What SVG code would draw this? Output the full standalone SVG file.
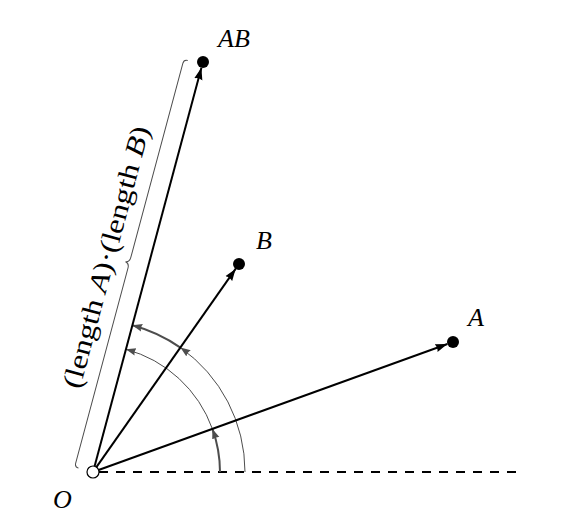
<svg xmlns="http://www.w3.org/2000/svg" width="561" height="526" viewBox="0 0 561 526">
<defs>
<style>
.vec{stroke:#000;stroke-width:2;fill:none;marker-end:url(#ah)}
.arc{stroke:#4d4d4d;fill:none;marker-end:url(#gh)}
.thin{stroke-width:1}
.thick{stroke-width:2}
.pt{fill:#000}
</style>
<marker id="ah" markerWidth="14" markerHeight="10" refX="12" refY="5" orient="auto" markerUnits="userSpaceOnUse">
<path d="M0,0.8 L12,5 L0,9.2 Q2,5 0,0.8 Z" fill="#000"/>
</marker>
<marker id="gh" markerWidth="12" markerHeight="10" refX="10" refY="5" orient="auto" markerUnits="userSpaceOnUse">
<path d="M0,1.2 L10,5 L0,8.8 Q1.8,5 0,1.2 Z" fill="#4d4d4d"/>
</marker>
</defs>
<g id="connectors">
<line x1="99" y1="472" x2="518" y2="472" stroke="#000" stroke-width="2" stroke-dasharray="9,8"/>
<path class="arc thick" d="M220,472 A127,127 0 0 0 212.4,428.9"/>
<path class="arc thin" d="M212.4,428.9 A127,127 0 0 0 125.9,349.3"/>
<path class="arc thin" d="M245,472 A152,152 0 0 0 180.4,347.6"/>
<path class="arc thick" d="M180.4,347.6 A152,152 0 0 0 132.3,325.2"/>
<line class="vec" x1="98.6" y1="470" x2="447.4" y2="344"/>
<line class="vec" x1="96.4" y1="467.1" x2="235.6" y2="268.9"/>
<line class="vec" x1="94.6" y1="466.2" x2="201.4" y2="67.8"/>
</g>
<g id="brace" transform="translate(93,472) rotate(-75)">
<path d="M0,-15 Q0,-19 4,-19 L206,-19 Q211,-19 211.5,-23 Q212,-19 217,-19 L418,-19 Q422,-19 422,-15" fill="none" stroke="#4d4d4d" stroke-width="1"/>
<text font-family="'Liberation Serif', 'Times New Roman', serif" font-size="27" fill="#000" x="211" y="-34" text-anchor="middle" textLength="270" lengthAdjust="spacingAndGlyphs">(length <tspan font-style="italic">A</tspan>)·(length <tspan font-style="italic">B</tspan>)</text>
</g>
<g id="O">
<circle cx="93" cy="472" r="6" fill="#fff" stroke="#000" stroke-width="1.2"/>
<text font-family="'Liberation Serif', 'Times New Roman', serif" font-style="italic" font-size="26" x="53" y="508">O</text>
</g>
<g id="A">
<circle class="pt" cx="453" cy="342" r="6"/>
<text font-family="'Liberation Serif', 'Times New Roman', serif" font-style="italic" font-size="26" x="468" y="326">A</text>
</g>
<g id="B">
<circle class="pt" cx="239" cy="264" r="6"/>
<text font-family="'Liberation Serif', 'Times New Roman', serif" font-style="italic" font-size="26" x="256" y="249">B</text>
</g>
<g id="AB">
<circle class="pt" cx="203" cy="62" r="6"/>
<text font-family="'Liberation Serif', 'Times New Roman', serif" font-style="italic" font-size="26" x="218" y="47">AB</text>
</g>
</svg>
